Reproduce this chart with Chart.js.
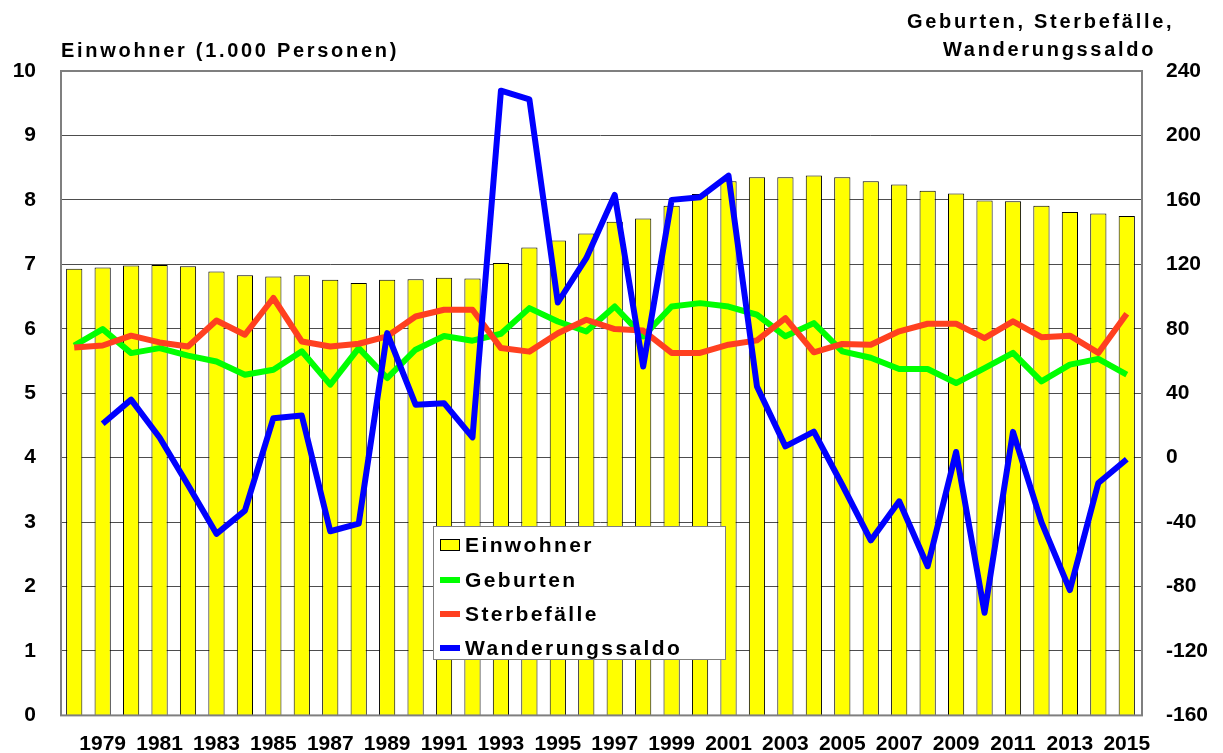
<!DOCTYPE html>
<html><head><meta charset="utf-8">
<script src="https://cdn.jsdelivr.net/npm/chart.js@4"></script>
<style>
html,body{margin:0;padding:0;background:#fff;}
#wrap{position:relative;width:1223px;height:753px;font-family:"Liberation Sans",Arial,sans-serif;font-weight:bold;color:#000;overflow:hidden;}
canvas{position:absolute;left:0;top:0;}
.t{position:absolute;white-space:nowrap;font-size:20px;letter-spacing:2.7px;line-height:24px;}
#legend{position:absolute;left:433px;top:526px;width:293px;height:134px;border:1.5px solid #7f7f7f;background:#fff;box-sizing:border-box;}
.li{position:absolute;left:6px;height:30px;display:flex;align-items:center;font-size:21px;letter-spacing:2.4px;white-space:nowrap;}
.mk{width:20px;margin-right:5px;box-sizing:border-box;}
</style></head>
<body>
<div id="wrap">
<canvas id="c" width="1223" height="753"></canvas>
<div class="t" id="tl" style="left:61px;top:38px;"></div>
<div class="t" id="tr1" style="left:907px;top:9px;"></div>
<div class="t" id="tr2" style="left:943px;top:37px;"></div>
<div id="legend"></div>
</div>
<script>
const years = ["1978","1979","1980","1981","1982","1983","1984","1985","1986","1987","1988","1989","1990","1991","1992","1993","1994","1995","1996","1997","1998","1999","2000","2001","2002","2003","2004","2005","2006","2007","2008","2009","2010","2011","2012","2013","2014","2015"];
const einwohner = [6.93,6.95,6.98,6.99,6.97,6.89,6.83,6.81,6.83,6.76,6.71,6.76,6.77,6.79,6.78,7.02,7.26,7.37,7.48,7.66,7.71,7.91,8.09,8.29,8.35,8.35,8.38,8.35,8.29,8.24,8.14,8.10,7.99,7.98,7.91,7.81,7.79,7.75];
const geburten = [69.5,79.8,64.9,68,63.3,59.7,51.5,54.6,66,45.3,68,49.4,67,75.5,72.6,76.9,92.8,84.5,78.3,93.8,75.3,93.8,95.9,93.8,88.7,75.3,83.5,66,62,55,55,46.3,55.6,65,47.3,57.7,61.3,51.5];
const sterbefaelle = [68.4,69.6,75.7,71.5,69,85.1,76.3,99.1,72.1,69,70.7,75.3,87.6,91.8,91.8,68,65.8,77.2,85.6,79.8,78.9,65,65,70.1,72.8,86.6,65.4,70.6,70.1,78.4,83.1,83.1,74.2,84.6,74.8,75.7,65,89.3];
const wanderungssaldo = [null,21,36,12.5,-17,-47.3,-32.9,24.5,26.1,-45.7,-41,77.3,32.9,33.8,12.6,227.8,222.4,96.3,123.8,163.1,56.6,160,161.7,175.1,44.2,7,16.1,-17,-51.4,-27.1,-67.4,3.5,-96.3,16,-40,-82.2,-15.7,-1];
const seriesNames = ["Einwohner","Geburten","Sterbefälle","Wanderungssaldo"];
const leftAxisTitle = "Einwohner (1.000 Personen)";
const rightAxisTitle = ["Geburten, Sterbefälle,","Wanderungssaldo"];
const colors = ["#FFFF00","#00FF00","#FF4020","#0000FF"];

document.getElementById('tl').textContent = leftAxisTitle;
document.getElementById('tr1').textContent = rightAxisTitle[0];
document.getElementById('tr2').textContent = rightAxisTitle[1];

const lg = document.getElementById('legend');
const rowTops = [3, 38, 72, 106];
seriesNames.forEach((n,i)=>{
  const d = document.createElement('div'); d.className='li'; d.style.top = rowTops[i]+'px';
  const m = document.createElement('div'); m.className='mk';
  if(i===0){ m.style.height='12px'; m.style.background=colors[0]; m.style.border='1px solid #000'; }
  else { m.style.height='6px'; m.style.background=colors[i]; }
  const s = document.createElement('span'); s.textContent = n;
  d.appendChild(m); d.appendChild(s); lg.appendChild(d);
});

const frame = {
  id:'frame',
  afterDatasetsDraw(chart){
    const a = chart.chartArea, ctx = chart.ctx;
    ctx.save(); ctx.strokeStyle='#7f7f7f'; ctx.lineWidth=2;
    ctx.strokeRect(a.left+1, a.top, a.right-a.left, a.bottom-a.top);
    ctx.restore();
  }
};

const tickFont = {family:'"Liberation Sans", Arial, sans-serif', size:21, weight:'bold'};
new Chart(document.getElementById('c'), {
  data:{
    labels: years,
    datasets:[
      {type:'bar', label:seriesNames[0], data:einwohner, yAxisID:'y', backgroundColor:colors[0], borderColor:'#000', borderWidth:1, barPercentage:0.57, categoryPercentage:1, order:4},
      {type:'line', label:seriesNames[1], data:geburten, yAxisID:'y2', borderColor:colors[1], borderWidth:6, pointRadius:0, tension:0, borderJoinStyle:'round', order:3},
      {type:'line', label:seriesNames[2], data:sterbefaelle, yAxisID:'y2', borderColor:colors[2], borderWidth:6, pointRadius:0, tension:0, borderJoinStyle:'round', order:2},
      {type:'line', label:seriesNames[3], data:wanderungssaldo, yAxisID:'y2', borderColor:colors[3], borderWidth:6, pointRadius:0, tension:0, borderJoinStyle:'round', spanGaps:false, order:1}
    ]
  },
  options:{
    responsive:false, animation:false, devicePixelRatio:1,
    layout:{padding:{top:71,left:0,right:0,bottom:0}},
    plugins:{legend:{display:false}, tooltip:{enabled:false}},
    scales:{
      x:{
        grid:{display:false, drawTicks:false}, border:{display:false},
        ticks:{autoSkip:false, maxRotation:0, minRotation:0, padding:16, color:'#000', font:tickFont,
          callback:function(v,i){ const y = years[i]; return (parseInt(y)%2===1) ? y : ''; }},
        afterFit(s){ s.height = 37; }
      },
      y:{
        position:'left', min:0, max:10,
        ticks:{stepSize:1, padding:24, color:'#000', font:tickFont},
        grid:{color:'#4d4d4d', lineWidth:1, drawTicks:false}, border:{display:false},
        afterFit(s){ s.width = 60; }
      },
      y2:{
        position:'right', min:-160, max:240,
        ticks:{stepSize:40, padding:25, color:'#000', font:tickFont},
        grid:{display:false, drawTicks:false}, border:{display:false},
        afterFit(s){ s.width = 82; }
      }
    }
  },
  plugins:[frame]
});
</script>
</body></html>
